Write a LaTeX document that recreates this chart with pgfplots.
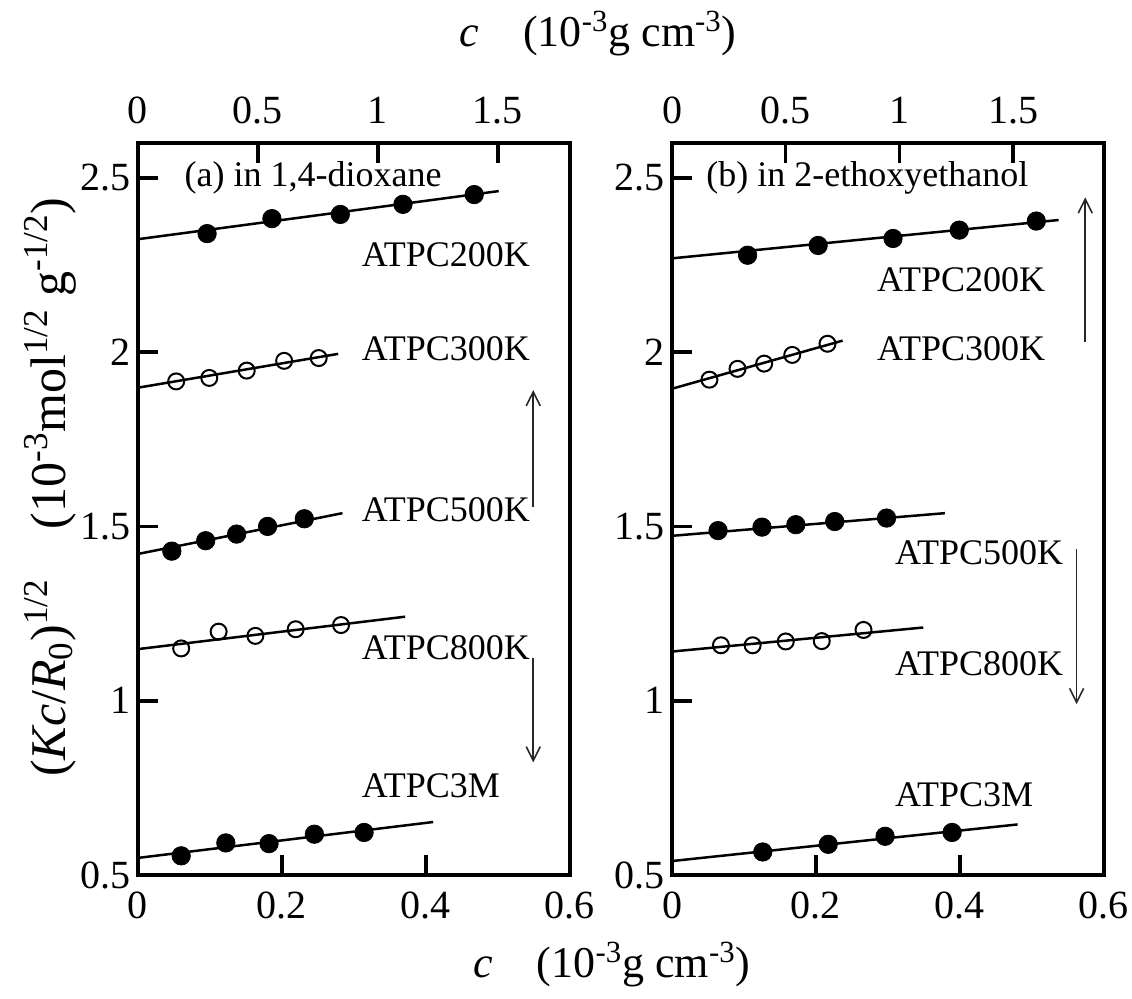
\documentclass[border=0pt]{standalone}
\usepackage{fontspec}
\setmainfont{Liberation Serif}
\usepackage{pgfplots}
\pgfplotsset{compat=1.18}
\usetikzlibrary{arrows.meta}
\tikzset{arr/.style={-{Straight Barb[length=7pt,width=7pt]}, line width=0.8pt, black!85}}
\begin{document}
\begin{tikzpicture}[font=\fontsize{18}{21}\selectfont]
\path[use as bounding box] (-69pt,-62pt) rectangle (497pt,437.5pt);
\pgfplotsset{
  baseax/.style={scale only axis, width=216pt, height=366pt,
    ymin=0.5, ymax=2.6, axis line style={line width=1.8pt},
    tick style={line width=1.8pt, black}, major tick length=10pt,
    tick align=inside, clip=false,
    ticklabel style={font=\fontsize{20}{24}\selectfont},
    /pgf/number format/assume math mode=true,
    label style={font=\fontsize{22}{26}\selectfont}},
  mainax/.style={baseax, xmin=0, xmax=0.6, xtick={0,0.2,0.4,0.6},
    ytick={0.5,1,1.5,2,2.5}, xtick pos=bottom, ytick pos=left,
    xticklabel style={yshift=-5pt}},
  topax/.style={baseax, axis x line*=top, axis y line=none, ytick=\empty,
    xtick={0,0.5,1,1.5}, xmin=0, xticklabel style={yshift=6pt}},
  fitl/.style={black, line width=1.25pt, no marks},
  fullm/.style={only marks, mark=*, mark size=4.6pt, mark options={fill=black, draw=black}},
  openm/.style={only marks, mark=o, mark size=4pt, mark options={fill=white, draw=black, line width=1pt}},
}
% ---------- panel (a) ----------
\begin{axis}[mainax, at={(0,0)}, anchor=south west,
  xlabel={\textit{c}\quad(10\textsuperscript{-3}g cm\textsuperscript{-3})},
  xlabel style={at={(axis description cs:1.097,-0.122)}, anchor=center},
  ylabel={(\textit{Kc}/\textit{R}\textsubscript{0})\textsuperscript{1/2}\quad(10\textsuperscript{-3}mol\textsuperscript{1/2} g\textsuperscript{-1/2})},
  ylabel style={at={(axis description cs:-0.204,0.53)}, anchor=center, font=\fontsize{25}{29}\selectfont}]
% ATPC200K
\addplot[fitl] coordinates {(0,2.324) (0.501,2.462)};
\addplot[fullm] coordinates {(0.096,2.340) (0.186,2.383) (0.281,2.395) (0.368,2.424) (0.467,2.452)};
% ATPC300K
\addplot[fitl] coordinates {(0,1.898) (0.278,1.995)};
\addplot[openm] coordinates {(0.053,1.916) (0.099,1.926) (0.151,1.947) (0.203,1.975) (0.251,1.983)};
% ATPC500K
\addplot[fitl] coordinates {(0,1.421) (0.284,1.538)};
\addplot[fullm] coordinates {(0.047,1.429) (0.094,1.459) (0.137,1.478) (0.180,1.500) (0.231,1.522)};
% ATPC800K
\addplot[fitl] coordinates {(0,1.148) (0.371,1.241)};
\addplot[openm] coordinates {(0.060,1.150) (0.112,1.198) (0.163,1.186) (0.219,1.205) (0.282,1.217)};
% ATPC3M
\addplot[fitl] coordinates {(0,0.549) (0.410,0.652)};
\addplot[fullm] coordinates {(0.060,0.555) (0.122,0.592) (0.182,0.590) (0.245,0.617) (0.314,0.622)};
\node[anchor=west] at (axis cs:0.055,2.50) {(a) in 1,4-dioxane};
\node[anchor=west] at (axis cs:0.301,2.28) {ATPC200K};
\node[anchor=west] at (axis cs:0.301,2.01) {ATPC300K};
\node[anchor=west] at (axis cs:0.301,1.549) {ATPC500K};
\node[anchor=west] at (axis cs:0.301,1.152) {ATPC800K};
\node[anchor=west] at (axis cs:0.301,0.757) {ATPC3M};
\draw[arr] (axis cs:0.549,1.557) -- (axis cs:0.549,1.891);
\draw[arr] (axis cs:0.549,1.123) -- (axis cs:0.549,0.823);
\end{axis}
\begin{axis}[topax, at={(0,0)}, anchor=south west, xmax=1.8,
  xlabel={\textit{c}\quad(10\textsuperscript{-3}g cm\textsuperscript{-3})},
  xlabel style={at={(axis description cs:1.065,1.15)}, anchor=center}]
\addplot[draw=none] coordinates {(0,1)};
\end{axis}
% ---------- panel (b) ----------
\begin{axis}[mainax, at={(267pt,0)}, anchor=south west]
% ATPC200K
\addplot[fitl] coordinates {(0,2.269) (0.537,2.379)};
\addplot[fullm] coordinates {(0.105,2.278) (0.203,2.306) (0.307,2.326) (0.399,2.350) (0.506,2.376)};
% ATPC300K
\addplot[fitl] coordinates {(0,1.895) (0.237,2.033)};
\addplot[openm] coordinates {(0.052,1.921) (0.091,1.952) (0.128,1.967) (0.167,1.992) (0.216,2.024)};
% ATPC500K
\addplot[fitl] coordinates {(0,1.473) (0.379,1.538)};
\addplot[fullm] coordinates {(0.064,1.488) (0.125,1.498) (0.172,1.505) (0.226,1.514) (0.298,1.524)};
% ATPC800K
\addplot[fitl] coordinates {(0,1.141) (0.349,1.210)};
\addplot[openm] coordinates {(0.068,1.159) (0.112,1.159) (0.158,1.170) (0.208,1.171) (0.266,1.203)};
% ATPC3M
\addplot[fitl] coordinates {(0,0.540) (0.480,0.645)};
\addplot[fullm] coordinates {(0.126,0.566) (0.217,0.588) (0.296,0.611) (0.389,0.622)};
\node[anchor=west] at (axis cs:0.038,2.50) {(b) in 2-ethoxyethanol};
\node[anchor=west] at (axis cs:0.275,2.209) {ATPC200K};
\node[anchor=west] at (axis cs:0.275,2.01) {ATPC300K};
\node[anchor=west] at (axis cs:0.300,1.424) {ATPC500K};
\node[anchor=west] at (axis cs:0.300,1.105) {ATPC800K};
\node[anchor=west] at (axis cs:0.300,0.729) {ATPC3M};
\draw[arr] (axis cs:0.574,2.029) -- (axis cs:0.574,2.444);
\draw[arr] (axis cs:0.562,1.435) -- (axis cs:0.562,0.990);
\end{axis}
\begin{axis}[topax, at={(267pt,0)}, anchor=south west, xmax=1.9]
\addplot[draw=none] coordinates {(0,1)};
\end{axis}
\end{tikzpicture}
\end{document}
